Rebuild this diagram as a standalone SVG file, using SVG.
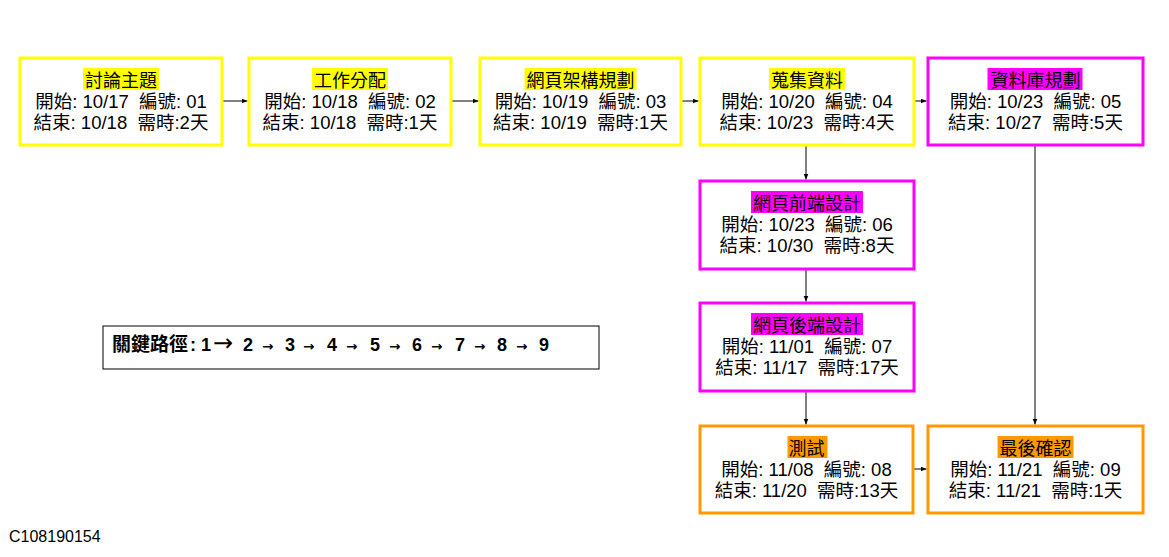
<svg xmlns="http://www.w3.org/2000/svg" width="1169" height="557" viewBox="0 0 1169 557">
<style>
text{font-family:"Liberation Sans","Noto Sans CJK TC",sans-serif;fill:#000;white-space:pre}
.t{font-size:18px;text-anchor:middle}
.d{font-size:18.5px;text-anchor:middle}
.box{fill:#fff;stroke-width:3}
.y{stroke:#FFFF00}.m{stroke:#FF00FF}.o{stroke:#FF9900}
.hy{fill:#FFFF00}.hm{fill:#FF00FF}.ho{fill:#FF9900}
.c{fill:none;stroke:#000;stroke-width:1;marker-end:url(#ah)}
.cp{font-size:18px;font-weight:bold}
.cj{font-size:19px}
.sa{font-family:"DejaVu Sans",sans-serif;font-size:13.5px;font-weight:bold}
.la{font-family:"DejaVu Sans",sans-serif;font-size:24px;font-weight:normal}
</style>
<defs>
<marker id="ah" markerUnits="userSpaceOnUse" markerWidth="6" markerHeight="6" refX="6" refY="3" orient="auto">
<path d="M0,0.5 L6,3 L0,5.5 z" fill="#000"/>
</marker>
</defs>
<rect width="1169" height="557" fill="#fff"/>
<g id="connectors">
<line class="c" x1="222" y1="101" x2="247.5" y2="101"/>
<line class="c" x1="451" y1="101" x2="478.5" y2="101"/>
<line class="c" x1="681" y1="101" x2="698.5" y2="101"/>
<line class="c" x1="914" y1="101" x2="926.5" y2="101"/>
<line class="c" x1="806" y1="145" x2="806" y2="179.5"/>
<line class="c" x1="806" y1="269" x2="806" y2="301.5"/>
<line class="c" x1="806" y1="391" x2="806" y2="424.5"/>
<line class="c" x1="1035" y1="145" x2="1035" y2="424.5"/>
<line class="c" x1="913" y1="469" x2="926.5" y2="469"/>
</g>
<g id="n1">
<rect class="box y" x="20" y="58" width="202" height="87"/>
<rect class="hy" x="83" y="68" width="76" height="22"/>
<text class="t" x="121" y="87">討論主題</text>
<text class="d" x="121" y="108">開始: 10/17  編號: 01</text>
<text class="d" x="121" y="129">結束: 10/18  需時:2天</text>
</g>
<g id="n2">
<rect class="box y" x="249" y="58" width="202" height="87"/>
<rect class="hy" x="312" y="68" width="76" height="22"/>
<text class="t" x="350" y="87">工作分配</text>
<text class="d" x="350" y="108">開始: 10/18  編號: 02</text>
<text class="d" x="350" y="129">結束: 10/18  需時:1天</text>
</g>
<g id="n3">
<rect class="box y" x="480" y="58" width="201" height="87"/>
<rect class="hy" x="524.5" y="68" width="112" height="22"/>
<text class="t" x="580.5" y="87">網頁架構規劃</text>
<text class="d" x="580.5" y="108">開始: 10/19  編號: 03</text>
<text class="d" x="580.5" y="129">結束: 10/19  需時:1天</text>
</g>
<g id="n4">
<rect class="box y" x="700" y="58" width="214" height="87"/>
<rect class="hy" x="769" y="68" width="76" height="22"/>
<text class="t" x="807" y="87">蒐集資料</text>
<text class="d" x="807" y="108">開始: 10/20  編號: 04</text>
<text class="d" x="807" y="129">結束: 10/23  需時:4天</text>
</g>
<g id="n5">
<rect class="box m" x="928" y="58" width="215" height="87"/>
<rect class="hm" x="987.5" y="68" width="95" height="22"/>
<text class="t" x="1035.5" y="87">資料庫規劃</text>
<text class="d" x="1035.5" y="108">開始: 10/23  編號: 05</text>
<text class="d" x="1035.5" y="129">結束: 10/27  需時:5天</text>
</g>
<g id="n6">
<rect class="box m" x="700" y="181" width="214" height="88"/>
<rect class="hm" x="751" y="191" width="112" height="22"/>
<text class="t" x="807" y="210">網頁前端設計</text>
<text class="d" x="807" y="231">開始: 10/23  編號: 06</text>
<text class="d" x="807" y="252">結束: 10/30  需時:8天</text>
</g>
<g id="n7">
<rect class="box m" x="700" y="303" width="214" height="88"/>
<rect class="hm" x="751" y="313" width="112" height="22"/>
<text class="t" x="807" y="332">網頁後端設計</text>
<text class="d" x="807" y="353">開始: 11/01  編號: 07</text>
<text class="d" x="807" y="374">結束: 11/17  需時:17天</text>
</g>
<g id="n8">
<rect class="box o" x="700" y="426" width="213" height="87"/>
<rect class="ho" x="787.5" y="436" width="40" height="22"/>
<text class="t" x="806.5" y="455">測試</text>
<text class="d" x="806.5" y="476">開始: 11/08  編號: 08</text>
<text class="d" x="806.5" y="497">結束: 11/20  需時:13天</text>
</g>
<g id="n9">
<rect class="box o" x="928" y="426" width="215" height="87"/>
<rect class="ho" x="997.5" y="436" width="76" height="22"/>
<text class="t" x="1035.5" y="455">最後確認</text>
<text class="d" x="1035.5" y="476">開始: 11/21  編號: 09</text>
<text class="d" x="1035.5" y="497">結束: 11/21  需時:1天</text>
</g>
<g id="critical-path">
<rect x="103" y="326" width="496" height="43" fill="#fff" stroke="#000" stroke-width="1"/>
<text class="cp" y="351"><tspan class="cj" x="112">關鍵路徑</tspan><tspan x="190">:</tspan><tspan x="201">1</tspan><tspan class="la" x="213">→</tspan><tspan x="243">2</tspan><tspan class="sa" x="262">→</tspan><tspan x="285">3</tspan><tspan class="sa" x="303">→</tspan><tspan x="327">4</tspan><tspan class="sa" x="346">→</tspan><tspan x="370">5</tspan><tspan class="sa" x="389">→</tspan><tspan x="412">6</tspan><tspan class="sa" x="431">→</tspan><tspan x="455">7</tspan><tspan class="sa" x="474">→</tspan><tspan x="497">8</tspan><tspan class="sa" x="516">→</tspan><tspan x="539">9</tspan></text>
</g>
<text x="9" y="542" font-size="16">C108190154</text>
</svg>
